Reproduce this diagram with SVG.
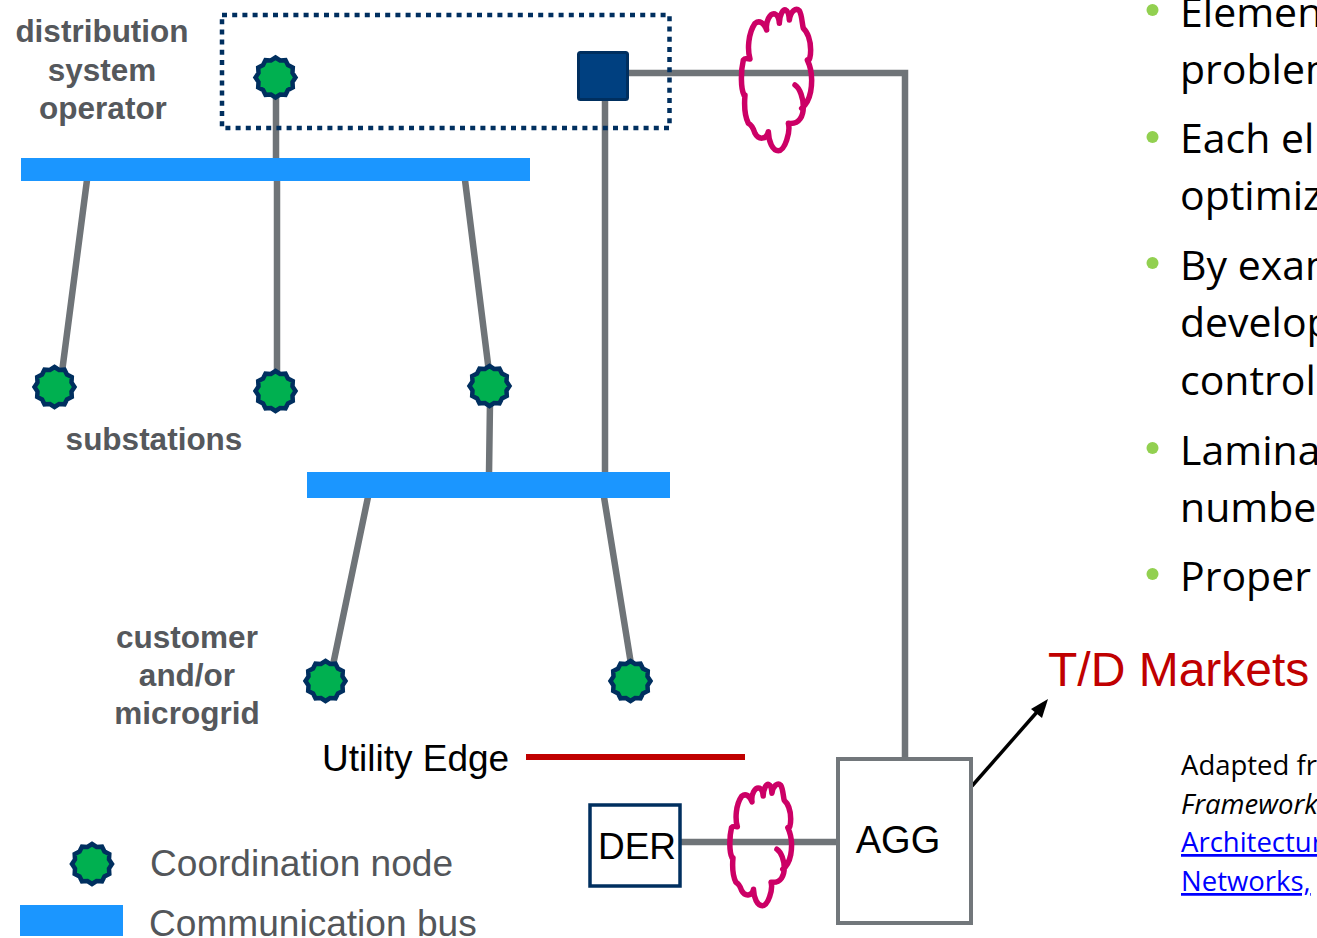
<svg xmlns="http://www.w3.org/2000/svg" width="1317" height="938" viewBox="0 0 1317 938">
<style>
.w{fill:none;stroke:#6f7478;stroke-width:6.500}
.bus{fill:#1b96ff}
.cloud{fill:none;stroke:#cc0066;stroke-width:5.500;stroke-linejoin:round;stroke-linecap:round;vector-effect:non-scaling-stroke}
.lbl{font:bold 31.500px "Liberation Sans",Arial,sans-serif;fill:#55585c;text-anchor:middle}
.leg{font:37.100px "Liberation Sans",Arial,sans-serif;fill:#53565a}
.blk{font:37px "Liberation Sans",Arial,sans-serif;fill:#000}
.bul{font:41px "Open Sans",Lato,sans-serif;fill:#000}
.sm{font:27.500px "Open Sans",Lato,sans-serif;fill:#000}
.it{font-style:italic}
.lnk{fill:#0000ff;text-decoration:underline}
.dot{fill:#92d050}
</style>
<defs>
<polygon id="star" points="0,-20 4.550,-17 10,-17.300 12.450,-12.450 17.300,-10 17,-4.550 20,0 17,4.550 17.300,10 12.450,12.450 10,17.300 4.550,17 0,20 -4.550,17 -10,17.300 -12.450,12.450 -17.300,10 -17,4.550 -20,0 -17,-4.550 -17.300,-10 -12.450,-12.450 -10,-17.300 -4.550,-17" fill="#00b050" stroke="#002f5f" stroke-width="4.500" stroke-linejoin="miter"/>
<path id="cloud" class="cloud" d="M72,285C62,265 62,215 70,180C74,174 82,175 90,177C82,150 84,100 105,70C118,60 132,68 140,90C136,65 150,38 165,42C172,45 177,55 178,70C178,45 190,25 197,30C204,33 207,45 208,60C212,32 228,22 238,32C246,45 246,70 250,85C262,95 272,120 272,150C272,170 268,185 262,180C274,205 278,240 272,275C268,295 258,315 245,325M225,255C240,265 250,295 250,320C250,345 240,375 205,370C212,395 195,452 175,452C158,452 146,425 145,395C140,420 115,420 105,400C100,385 95,375 85,370C75,350 72,320 75,285L72,285"/>
</defs>

<g id="connectors">
<path class="w" d="M276 90V160M277 180V375M87 180L62 372M465 180L489 372M490 402L489 474"/>
<path class="w" d="M605 90V474M625 73H905V758M368 497L333 665M604 497L631 664"/>
<path class="w" d="M680 842H838"/>
<path d="M972 786L1037 712" fill="none" stroke="#000" stroke-width="3.500"/>
<polygon points="1048,699 1031,709 1042,718" fill="#000"/>
<path d="M526 757H745" fill="none" stroke="#c00000" stroke-width="6"/>
</g>

<g id="dso-frame"><rect x="222" y="15" width="447.500" height="113" fill="none" stroke="#002f5f" stroke-width="4.500" stroke-dasharray="5 5.200"/></g>
<g id="bus-top"><rect class="bus" x="21" y="158" width="509" height="23"/></g>
<g id="bus-mid"><rect class="bus" x="307" y="472" width="363" height="26"/></g>
<g id="cloud-top"><use href="#cloud" transform="translate(720 0) scale(.3333)"/></g>
<g id="cloud-bottom"><use href="#cloud" transform="translate(711 776) scale(.293 .287)"/></g>

<g id="node-dso"><use href="#star" x="275.500" y="77.500"/></g>
<g id="node-sq"><rect x="578.500" y="52.500" width="49" height="47" rx="2" fill="#004080" stroke="#002f5f" stroke-width="3"/></g>
<g id="node-sub1"><use href="#star" x="54.500" y="387"/></g>
<g id="node-sub2"><use href="#star" x="275.500" y="391"/></g>
<g id="node-sub3"><use href="#star" x="489.500" y="386"/></g>
<g id="node-cust1"><use href="#star" x="325.500" y="681"/></g>
<g id="node-cust2"><use href="#star" x="630.500" y="681"/></g>
<g id="node-legend"><use href="#star" x="92" y="864"/></g>
<g id="legend-bus"><rect class="bus" x="20" y="905" width="103" height="31"/></g>

<g id="node-der"><rect x="590" y="805" width="90" height="81" fill="#fff" stroke="#002f5f" stroke-width="3.500"/><text class="blk" x="637" y="859" text-anchor="middle">DER</text></g>
<g id="node-agg"><rect x="838" y="759" width="133" height="164" fill="#fff" stroke="#72777b" stroke-width="4"/><text class="blk" x="898" y="853" text-anchor="middle" style="font-size:38px">AGG</text></g>

<g id="labels">
<text class="lbl" x="102" y="42">distribution</text>
<text class="lbl" x="102" y="81">system</text>
<text class="lbl" x="103" y="119">operator</text>
<text class="lbl" x="154" y="450">substations</text>
<text class="lbl" x="187" y="648">customer</text>
<text class="lbl" x="187" y="686">and/or</text>
<text class="lbl" x="187" y="724">microgrid</text>
<text class="blk" x="322" y="771">Utility Edge</text>
<text class="leg" x="150" y="876">Coordination node</text>
<text class="leg" x="149" y="936">Communication bus</text>
<text x="1048" y="686" font-family="Liberation Sans,Arial,sans-serif" font-size="48" fill="#c00000">T/D Markets</text>
</g>

<g id="bullets">
<circle class="dot" cx="1152.500" cy="10" r="6"/><circle class="dot" cx="1152.500" cy="137" r="6"/><circle class="dot" cx="1152.500" cy="263" r="6"/><circle class="dot" cx="1152.500" cy="448" r="6"/><circle class="dot" cx="1152.500" cy="574" r="6"/>
<text class="bul" x="1180" y="27">Elemen</text>
<text class="bul" x="1180" y="84">problem</text>
<text class="bul" x="1180" y="153">Each el</text>
<text class="bul" x="1180" y="210">optimiz</text>
<text class="bul" x="1180" y="280">By exam</text>
<text class="bul" x="1180" y="337">develop</text>
<text class="bul" x="1180" y="395">control</text>
<text class="bul" x="1180" y="465">Lamina</text>
<text class="bul" x="1180" y="522">number</text>
<text class="bul" x="1180" y="591">Proper</text>
<text class="sm" x="1181" y="775">Adapted from</text>
<text class="sm it" x="1181" y="814">Framework</text>
<text class="sm lnk" x="1181" y="852">Architecture</text>
<text class="sm lnk" x="1181" y="891">Networks,</text>
</g>
</svg>
